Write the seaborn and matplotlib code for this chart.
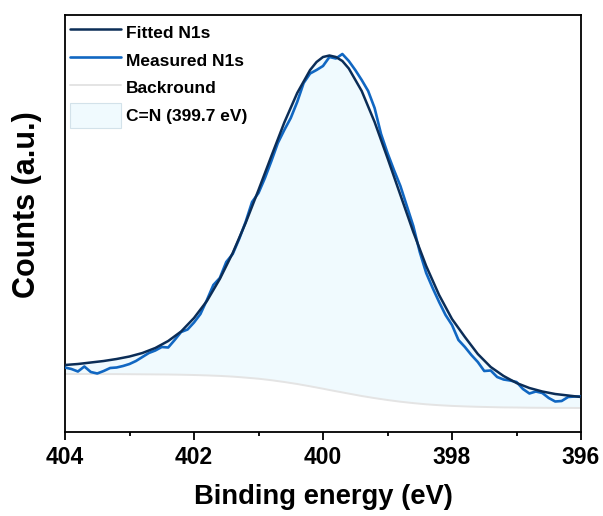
import matplotlib
matplotlib.use("Agg")
import matplotlib.pyplot as plt
import numpy as np
import pandas as pd
import seaborn as sns
from matplotlib.lines import Line2D
from matplotlib.patches import Patch
from matplotlib.ticker import MultipleLocator

# ---- data (binding energy in eV, intensity in arbitrary units) ----
energy_fit = [404.0, 403.8, 403.6, 403.4, 403.2, 403.0, 402.8, 402.6, 402.4, 402.2,
              402.0, 401.8, 401.6, 401.4, 401.2, 401.0, 400.8, 400.6, 400.4, 400.2,
              400.1, 400.0, 399.9, 399.8, 399.7, 399.6, 399.4, 399.2, 399.0, 398.8,
              398.6, 398.4, 398.2, 398.0, 397.8, 397.6, 397.4, 397.2, 397.0, 396.8,
              396.6, 396.4, 396.2, 396.0]
fitted = [67, 68, 69.5, 71, 73, 75.5, 79, 84, 91, 100.5,
          114, 131, 153, 179, 209, 242, 276, 309.5, 339, 362,
          370, 375, 376.5, 375, 371, 363.5, 341, 310, 274, 237,
          200, 166, 137, 113, 95, 78, 65, 56, 49, 44,
          40.5, 38, 36.5, 35]
background = [58, 58, 58, 57.9, 57.9, 57.8, 57.7, 57.6, 57.5, 57.3,
              57.0, 56.6, 56.1, 55.4, 54.4, 53.3, 51.8, 50.0, 48.0, 45.7,
              44.5, 43.3, 42.0, 40.8, 39.6, 38.4, 36.0, 33.9, 32.0, 30.3,
              28.9, 27.7, 26.8, 26.1, 25.6, 25.2, 24.9, 24.6, 24.5, 24.3,
              24.2, 24.1, 24.1, 24.0]

energy_meas = [404.0, 403.9, 403.8, 403.7, 403.6, 403.5, 403.4, 403.3, 403.2, 403.1,
               403.0, 402.9, 402.8, 402.7, 402.6, 402.5, 402.4, 402.3, 402.2, 402.1,
               402.0, 401.9, 401.8, 401.7, 401.6, 401.5, 401.4, 401.3, 401.2, 401.1,
               401.0, 400.9, 400.8, 400.7, 400.6, 400.5, 400.4, 400.3, 400.2, 400.1,
               400.0, 399.9, 399.8, 399.7, 399.6, 399.5, 399.4, 399.3, 399.2, 399.1,
               399.0, 398.9, 398.8, 398.7, 398.6, 398.5, 398.4, 398.3, 398.2, 398.1,
               398.0, 397.9, 397.8, 397.7, 397.6, 397.5, 397.4, 397.3, 397.2, 397.1,
               397.0, 396.9, 396.8, 396.7, 396.6, 396.5, 396.4, 396.3, 396.2, 396.1,
               396.0]
measured = [64.5, 63, 60.5, 65.5, 60, 58.5, 61, 64, 64.5, 66,
            68, 71, 75, 79, 81.5, 85, 84.5, 92, 100, 102.5,
            109.5, 118, 132, 147, 154, 170, 178, 193, 210, 230,
            239, 254, 271, 289, 302, 314, 330, 349, 358.5, 362,
            366, 375, 373.5, 378, 371, 362, 352, 341, 324, 298,
            279, 262, 246, 226, 206, 180, 159, 144, 130, 117,
            107, 92, 85, 77, 70, 61, 61.5, 55, 52.5, 51.5,
            50, 43, 38.5, 40.5, 39, 34, 30.5, 31, 35, 35.5,
            35.5]

labels = ["Fitted N1s", "Measured N1s", "Backround", "C=N (399.7 eV)"]

# ---- style ----
sns.set_theme(style="ticks")
plt.rcParams["font.family"] = ["Liberation Sans", "DejaVu Sans"]
plt.rcParams["font.weight"] = "bold"
plt.rcParams["text.color"] = "black"
plt.rcParams["axes.labelcolor"] = "black"
plt.rcParams["xtick.color"] = "black"

c_fit = "#0B2D57"
c_meas = "#1167C2"
c_bg = "#E4E4E4"
c_fill = "#F0FAFE"

df_fit = pd.DataFrame({"E": energy_fit, "fit": fitted, "bg": background})
df_meas = pd.DataFrame({"E": energy_meas, "I": measured})

fig = plt.figure(figsize=(6.03, 5.16), dpi=100)
ax = fig.add_axes([65 / 603, (516 - 432) / 516, 516 / 603, (432 - 15) / 516])

ax.fill_between(df_fit["E"], df_fit["bg"], df_fit["fit"], color=c_fill, lw=0, zorder=1)
sns.lineplot(data=df_fit, x="E", y="bg", color=c_bg, lw=1.4, ax=ax, zorder=2)
sns.lineplot(data=df_meas, x="E", y="I", color=c_meas, lw=1.9, ax=ax, zorder=3)
sns.lineplot(data=df_fit, x="E", y="fit", color=c_fit, lw=1.8, ax=ax, zorder=4)

ax.set_xlim(404, 396)
ax.set_ylim(0, 417)
ax.set_yticks([])
ax.xaxis.set_major_locator(MultipleLocator(2))
ax.xaxis.set_minor_locator(MultipleLocator(1))
ax.tick_params(axis="x", which="major", direction="out", length=6, width=1.3,
               labelsize=16.5, pad=4, colors="black")
ax.tick_params(axis="x", which="minor", direction="out", length=3, width=1.3,
               colors="black")
for lab in ax.get_xticklabels():
    lab.set_fontweight("bold")
for sp in ax.spines.values():
    sp.set_visible(True)
    sp.set_color("black")
    sp.set_linewidth(1.3)

ax.set_xlabel("Binding energy (eV)", fontsize=19.7, fontweight="bold",
              labelpad=11, color="black")
ax.set_ylabel("Counts (a.u.)", fontsize=22, fontweight="bold", color="black")
ax.yaxis.set_label_coords(-0.045, 0.545)

handles = [Line2D([], [], color=c_fit, lw=1.8),
           Line2D([], [], color=c_meas, lw=1.9),
           Line2D([], [], color=c_bg, lw=1.4),
           Patch(facecolor=c_fill, edgecolor="#D3E2EA", lw=0.8)]
leg = ax.legend(handles, labels, loc="upper left", frameon=False,
                prop={"weight": "bold", "size": 12.5},
                handlelength=2.9, handleheight=1.8, handletextpad=0.3,
                labelspacing=0.18, borderaxespad=0.2, borderpad=0.1)
for t in leg.get_texts():
    t.set_color("black")

fig.savefig("out.png", dpi=100)
